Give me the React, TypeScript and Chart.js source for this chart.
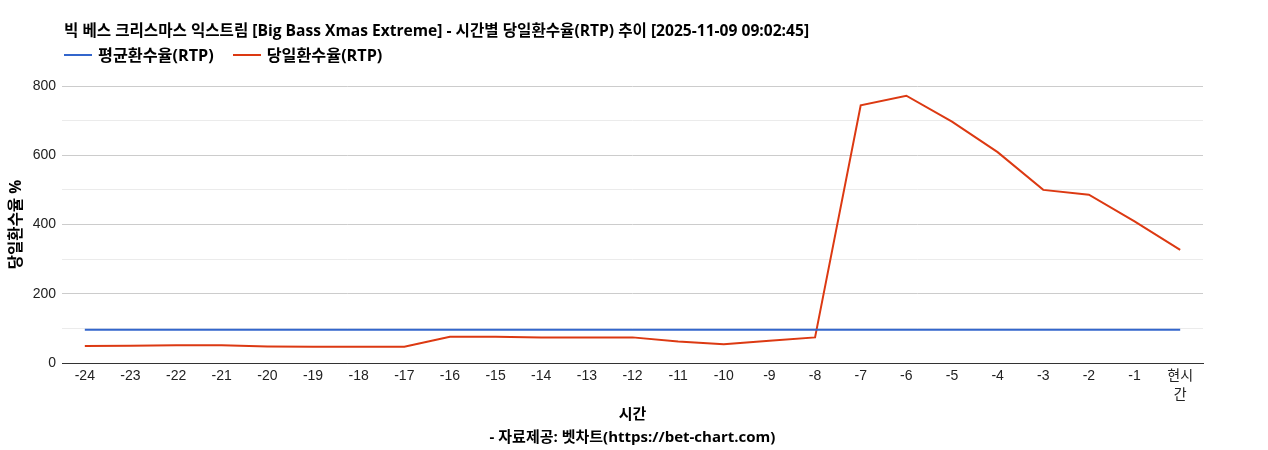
import React, { useEffect, useRef } from "react";
import { Chart, registerables } from "chart.js";

Chart.register(...registerables);

const TITLE = "빅 베스 크리스마스 익스트림 [Big Bass Xmas Extreme] - 시간별 당일환수율(RTP) 추이 [2025-11-09 09:02:45]";
const SERIES_AVG = "평균환수율(RTP)";
const SERIES_DAY = "당일환수율(RTP)";
const X_TITLE = "시간";
const SOURCE = "- 자료제공: 벳차트(https://bet-chart.com)";
const Y_TITLE = "당일환수율 %";

const categories: (string | string[])[] = [
  "-24", "-23", "-22", "-21", "-20", "-19", "-18", "-17", "-16", "-15", "-14", "-13",
  "-12", "-11", "-10", "-9", "-8", "-7", "-6", "-5", "-4", "-3", "-2", "-1", ["현시", "간"],
];

const avgValues = [
  96, 96, 96, 96, 96, 96, 96, 96, 96, 96, 96, 96,
  96, 96, 96, 96, 96, 96, 96, 96, 96, 96, 96, 96, 96,
];

const dayValues = [
  49, 50, 51, 51, 48, 47, 47, 47, 76, 76, 74, 74,
  74, 62, 54, 64, 74, 744, 772, 697, 609, 500, 486, 409, 327,
];

const yTicks = [0, 200, 400, 600, 800];

const BLUE = "#3366cc";
const RED = "#dc3912";
const FONT = "Arial, 'Liberation Sans', 'Noto Sans CJK KR', sans-serif";
const TFONT = "'Open Sans', 'Noto Sans CJK KR', sans-serif";

export default function App() {
  const ref = useRef<HTMLCanvasElement | null>(null);

  useEffect(() => {
    document.body.style.margin = "0";
    const canvas = ref.current;
    if (!canvas) return;
    const chart = new Chart(canvas, {
      type: "line",
      data: {
        labels: categories,
        datasets: [
          {
            label: SERIES_AVG,
            data: avgValues,
            borderColor: BLUE,
            backgroundColor: BLUE,
            borderWidth: 2,
            pointRadius: 0,
            tension: 0,
          },
          {
            label: SERIES_DAY,
            data: dayValues,
            borderColor: RED,
            backgroundColor: RED,
            borderWidth: 2,
            pointRadius: 0,
            tension: 0,
          },
        ],
      },
      options: {
        responsive: false,
        animation: false,
        events: [],
        layout: { padding: { top: 86, right: 65, left: 0, bottom: 0 } },
        plugins: {
          legend: { display: false },
          title: { display: false },
          tooltip: { enabled: false },
        },
        scales: {
          x: {
            offset: true,
            grid: { display: false, drawTicks: false },
            border: { display: true, color: "#333", width: 1 },
            ticks: {
              autoSkip: false,
              maxRotation: 0,
              minRotation: 0,
              padding: 3,
              color: "#222",
              font: { family: FONT, size: 14, lineHeight: 1.4 },
            },
            title: {
              display: true,
              text: [X_TITLE, SOURCE],
              color: "#000",
              font: { family: TFONT, size: 15, weight: "bold", lineHeight: "23px" },
              padding: { top: 0, bottom: 1 },
            },
            afterFit: (scale: any) => {
              scale.height = 87;
            },
          },
          y: {
            min: 0,
            max: 800,
            grid: {
              drawTicks: false,
              color: (ctx: any) =>
                ctx.tick && ctx.tick.value === 0
                  ? "#333"
                  : ctx.tick && ctx.tick.value % 200 === 0
                  ? "#cccccc"
                  : "#ebebeb",
            },
            border: { display: false },
            ticks: {
              stepSize: 100,
              padding: 6,
              color: "#222",
              font: { family: FONT, size: 14 },
              callback: (v: any) => (yTicks.includes(Number(v)) ? String(v) : ""),
            },
            title: {
              display: true,
              text: Y_TITLE,
              color: "#000",
              font: { family: TFONT, size: 15.5, weight: "bold", lineHeight: "18px" },
              padding: { top: 8, bottom: 0 },
            },
            afterFit: (scale: any) => {
              scale.width = 62;
            },
          },
        },
      },
    });
    return () => chart.destroy();
  }, []);

  const legendItem = (color: string, text: string, ml: number) => (
    <div style={{ display: "flex", alignItems: "center", marginLeft: ml }}>
      <div style={{ width: 28, height: 2, background: color, marginRight: 6 }} />
      <span>{text}</span>
    </div>
  );

  return (
    <div style={{ position: "relative", width: 1268, height: 450, fontFamily: TFONT }}>
      <canvas ref={ref} width={1268} height={450} style={{ position: "absolute", left: 0, top: 0 }} />
      <div
        style={{
          position: "absolute",
          left: 64,
          top: 21,
          fontSize: 15.6,
          fontWeight: "bold",
          color: "#000",
          lineHeight: "18px",
          whiteSpace: "nowrap",
        }}
      >
        {TITLE}
      </div>
      <div
        style={{
          position: "absolute",
          left: 64,
          top: 46,
          display: "flex",
          fontSize: 16.2,
          fontWeight: "bold",
          color: "#000",
          lineHeight: "18px",
          whiteSpace: "nowrap",
        }}
      >
        {legendItem(BLUE, SERIES_AVG, 0)}
        {legendItem(RED, SERIES_DAY, 19)}
      </div>
    </div>
  );
}
